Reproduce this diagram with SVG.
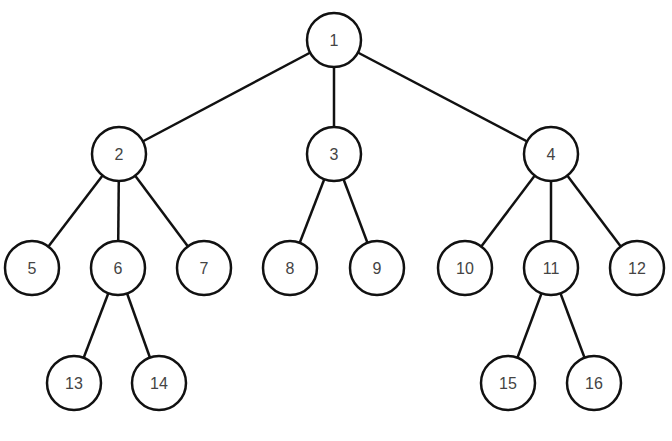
<svg xmlns="http://www.w3.org/2000/svg" width="672" height="441" viewBox="0 0 672 441">
<style>
.n circle{fill:#fff;stroke:#111;stroke-width:2.5}
.n text{font-family:"Liberation Sans",Arial,sans-serif;font-size:16px;fill:#444;text-anchor:middle;dominant-baseline:central}
#edges line{stroke:#111;stroke-width:2.5}
</style>
<rect width="672" height="441" fill="#fff"/>
<g id="edges">
<line x1="334" y1="40" x2="119" y2="154"/>
<line x1="334" y1="40" x2="334" y2="154"/>
<line x1="334" y1="40" x2="551" y2="154"/>
<line x1="119" y1="154" x2="32" y2="268"/>
<line x1="119" y1="154" x2="118" y2="268"/>
<line x1="119" y1="154" x2="204" y2="268"/>
<line x1="334" y1="154" x2="290" y2="268"/>
<line x1="334" y1="154" x2="377" y2="268"/>
<line x1="551" y1="154" x2="465" y2="268"/>
<line x1="551" y1="154" x2="551" y2="268"/>
<line x1="551" y1="154" x2="637" y2="268"/>
<line x1="118" y1="268" x2="74" y2="383"/>
<line x1="118" y1="268" x2="159" y2="383"/>
<line x1="551" y1="268" x2="508" y2="383"/>
<line x1="551" y1="268" x2="594" y2="383"/>
</g>
<g id="n1" class="n"><circle cx="334" cy="40" r="27"/><text x="334" y="40">1</text></g>
<g id="n2" class="n"><circle cx="119" cy="154" r="27"/><text x="119" y="154">2</text></g>
<g id="n3" class="n"><circle cx="334" cy="154" r="27"/><text x="334" y="154">3</text></g>
<g id="n4" class="n"><circle cx="551" cy="154" r="27"/><text x="551" y="154">4</text></g>
<g id="n5" class="n"><circle cx="32" cy="268" r="27"/><text x="32" y="268">5</text></g>
<g id="n6" class="n"><circle cx="118" cy="268" r="27"/><text x="118" y="268">6</text></g>
<g id="n7" class="n"><circle cx="204" cy="268" r="27"/><text x="204" y="268">7</text></g>
<g id="n8" class="n"><circle cx="290" cy="268" r="27"/><text x="290" y="268">8</text></g>
<g id="n9" class="n"><circle cx="377" cy="268" r="27"/><text x="377" y="268">9</text></g>
<g id="n10" class="n"><circle cx="465" cy="268" r="27"/><text x="465" y="268">10</text></g>
<g id="n11" class="n"><circle cx="551" cy="268" r="27"/><text x="551" y="268">11</text></g>
<g id="n12" class="n"><circle cx="637" cy="268" r="27"/><text x="637" y="268">12</text></g>
<g id="n13" class="n"><circle cx="74" cy="383" r="27"/><text x="74" y="383">13</text></g>
<g id="n14" class="n"><circle cx="159" cy="383" r="27"/><text x="159" y="383">14</text></g>
<g id="n15" class="n"><circle cx="508" cy="383" r="27"/><text x="508" y="383">15</text></g>
<g id="n16" class="n"><circle cx="594" cy="383" r="27"/><text x="594" y="383">16</text></g>
</svg>
